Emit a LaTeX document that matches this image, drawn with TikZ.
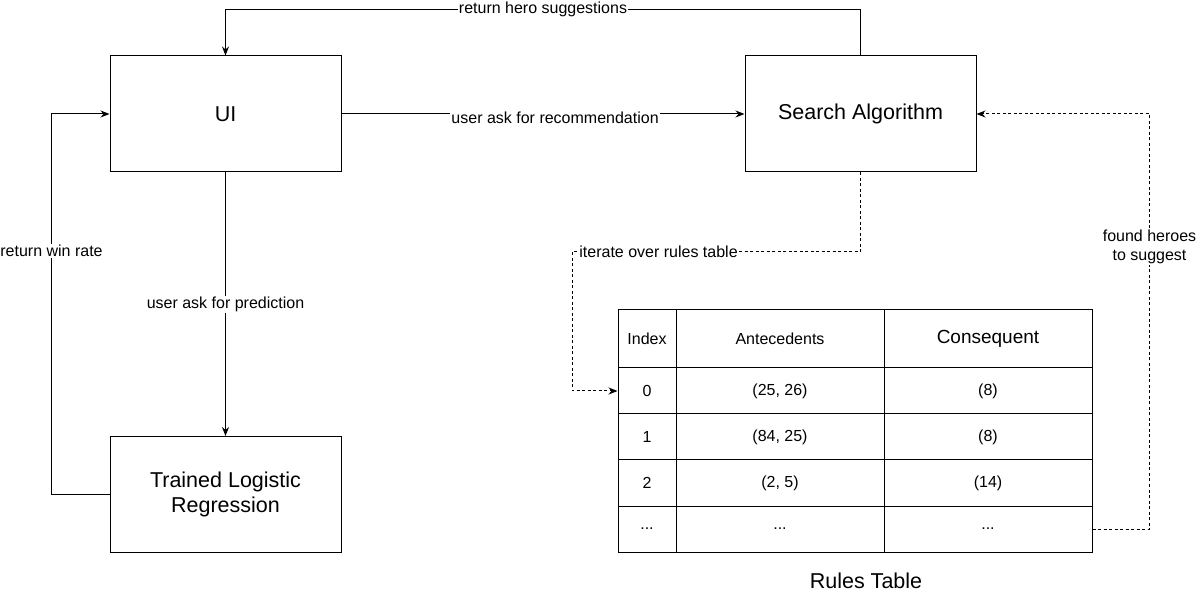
\documentclass[tikz,border=0pt]{standalone}
\usepackage{fontspec}
\setmainfont{Liberation Sans}
\usetikzlibrary{arrows.meta}
\newcommand{\celldots}{...}
\tikzset{
    block-box/.style = {draw, line width=1pt, rectangle, minimum width=231pt, minimum height=116pt, align=center, font=\fontsize{21.5}{25}\selectfont},
    table-cell/.style = {draw, line width=1pt, rectangle, inner sep=0pt, minimum height=46pt, font=\fontsize{16}{19}\selectfont},
    link/.style = {line width=1pt, -{Stealth[length=9pt,width=7pt]}},
    dashed-link/.style = {link, dash pattern=on 3pt off 2.5pt},
    link-label/.style = {fill=white, inner sep=1pt, align=center, font=\fontsize{16}{18.5}\selectfont},
}
\begin{document}
\begin{tikzpicture}[x=1pt, y=-1pt]
\useasboundingbox (0,0) rectangle (1200,601);
% main blocks
\node[block-box] (ui) at (225.5,114) {UI};
\node[block-box] (search) at (860.5,114) {Search Algorithm};
\node[block-box] (model) at (225.5,494.5) {Trained Logistic\\Regression};
% rules table
\node[table-cell, minimum width=58pt, minimum height=58pt] (idx-h) at (647,339) {Index};
\node[table-cell, minimum width=208pt, minimum height=58pt] (ant-h) at (780,339) {Antecedents};
\node[table-cell, minimum width=208pt, minimum height=58pt, font=\fontsize{19}{22}\selectfont] (cons-h) at (988,339) {Consequent};
\foreach \i/\a/\c [count=\n from 1] in {0/{(25, 26)}/{(8)}, 1/{(84, 25)}/{(8)}, 2/{(2, 5)}/{(14)}, \celldots/\celldots/\celldots} {
    \node[table-cell, minimum width=58pt] (idx-\n) at (647,345+46*\n) {\i};
    \node[table-cell, minimum width=208pt] (ant-\n) at (780,345+46*\n) {\a};
    \node[table-cell, minimum width=208pt] (cons-\n) at (988,345+46*\n) {\c};
}
\node[font=\fontsize{21.5}{25}\selectfont] (rules-title) at (866,581) {Rules Table};
% connectors
\draw[link] (search.north) -- ++(0,-46) -| node[link-label, pos=0.25] {return hero suggestions} (ui.north);
\draw[link] (ui.east) -- node[link-label, pos=0.53, yshift=-4pt] {user ask for recommendation} (search.west);
\draw[link] (ui.south) -- node[link-label, pos=0.5] {user ask for prediction} (model.north);
\draw[link] (model.west) -- ++(-58,0) |- node[link-label, pos=0.32] {return win rate} (ui.west);
\draw[dashed-link] (search.south) |- node[link-label, pos=0.85] {iterate over rules table} (572,252) |- (idx-1.west);
\draw[dashed-link] (cons-4.east) -- ++(57,0) |- node[link-label, pos=0.34] {found heroes\\to suggest} (search.east);
\end{tikzpicture}
\end{document}
